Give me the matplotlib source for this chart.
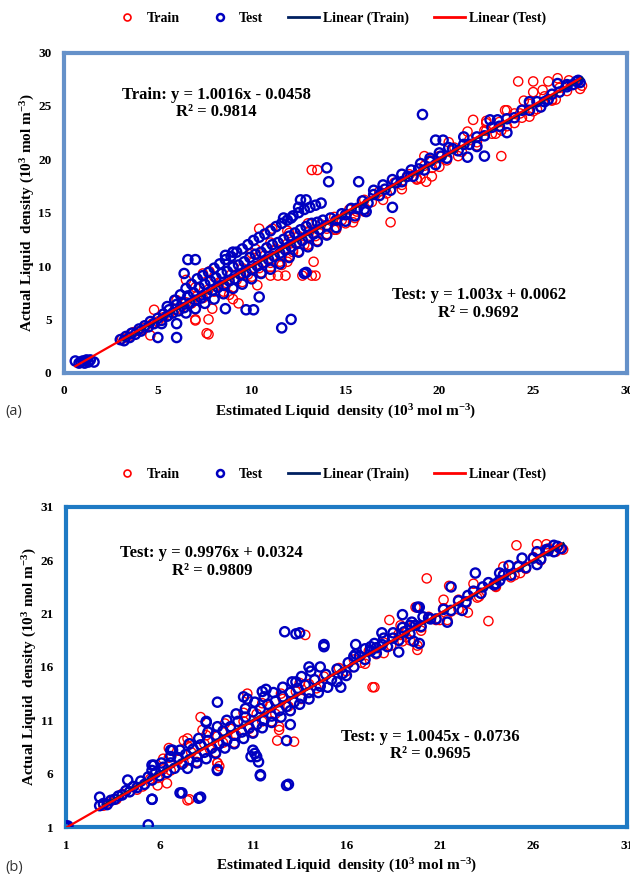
import numpy as np
import matplotlib
matplotlib.use("Agg")
from matplotlib import pyplot as plt
from matplotlib.lines import Line2D

plt.rcParams['font.family'] = ['Liberation Serif', 'DejaVu Sans']
plt.rcParams['font.weight'] = 'bold'
plt.rcParams['mathtext.fontset'] = 'custom'
plt.rcParams['mathtext.rm'] = 'Liberation Serif:bold'
plt.rcParams['mathtext.it'] = 'Liberation Serif:bold'
plt.rcParams['mathtext.bf'] = 'Liberation Serif:bold'

# ---- panel (a) : estimated vs actual, (x, y) pairs ----
train_a = [
    (3.1, 3.2), (3.4, 3.3), (3.7, 3.8), (4.0, 3.9), (4.3, 4.2), (4.7, 4.6), (5.0, 4.8),
    (5.3, 5.2), (5.6, 5.4), (5.9, 5.9), (6.2, 6.0), (6.5, 6.6), (6.8, 6.5), (7.1, 7.2),
    (7.4, 7.0), (7.7, 7.8), (8.0, 7.6), (8.3, 8.5), (8.6, 8.1), (8.9, 9.2), (9.2, 8.7),
    (9.5, 9.8), (9.8, 9.2), (10.1, 10.4), (10.4, 9.8), (10.7, 11.0), (11.0, 10.3),
    (11.3, 11.6), (11.6, 10.9), (11.9, 12.1), (12.2, 11.5), (12.5, 12.8), (12.8, 12.0),
    (13.1, 13.3), (13.4, 12.8), (13.7, 13.9), (14.0, 13.5), (14.4, 14.6), (14.8, 14.3),
    (15.2, 15.3), (15.6, 15.1), (16.0, 16.2), (16.4, 16.0), (16.8, 17.0), (17.2, 16.8),
    (17.6, 17.8), (18.0, 17.6), (18.4, 18.6), (18.8, 18.2), (19.2, 19.4), (19.6, 19.2),
    (20.0, 20.3), (20.4, 19.9), (20.8, 21.1), (21.2, 20.7), (21.6, 21.8), (22.0, 21.6),
    (22.4, 22.7), (22.8, 22.4), (23.2, 23.5), (23.6, 23.1), (24.0, 24.3), (24.4, 23.9),
    (24.8, 25.2), (25.2, 24.7), (25.6, 25.9), (26.0, 25.6), (26.4, 26.7), (26.8, 26.4),
    (27.2, 27.0), (27.6, 26.9),
    (8.5, 7.6), (9.0, 8.0), (9.5, 8.5), (10.0, 9.0), (10.5, 9.4), (11.0, 9.9), (11.5, 10.4),
    (12.0, 10.9), (12.5, 11.4), (13.0, 12.0), (13.5, 12.4), (14.0, 13.0), (14.5, 13.4),
    (15.0, 14.0), (15.5, 14.5), (16.0, 15.1), (17.0, 16.2), (18.0, 17.2), (19.0, 18.2),
    (20.0, 19.3), (21.0, 20.3), (22.0, 21.3), (23.0, 22.4), (24.0, 23.4), (25.0, 24.5),
    (26.0, 25.5), (6.0, 6.8), (7.0, 8.0), (8.0, 9.0), (9.0, 10.0), (10.0, 11.2),
    (11.0, 12.2), (12.0, 13.1), (13.0, 14.0), (20.5, 21.6), (21.5, 22.6), (22.5, 23.6),
    (23.5, 24.6), (24.5, 25.5), (25.5, 26.5),
    # scattered ones
    (4.6, 3.5), (4.8, 5.9), (7.7, 3.6), (7.7, 5.0), (7.0, 5.0), (7.0, 4.9), (7.6, 3.7),
    (9.0, 11.3), (8.8, 7.3), (9.0, 6.9), (9.3, 6.5), (10.3, 8.2), (7.4, 9.3), (7.75, 9.5),
    (6.5, 8.7), (7.9, 6.0), (10.4, 13.5), (10.2, 11.6), (12.2, 11.3), (11.9, 10.4),
    (11.6, 10.1), (11.0, 9.1), (11.4, 9.1), (11.8, 9.1), (12.7, 9.1), (13.2, 9.1),
    (13.3, 10.4), (13.4, 9.1), (13.2, 19.0), (13.5, 19.0), (17.4, 14.1), (11.1, 13.5),
    (11.9, 13.3), (15.4, 14.1), (14.4, 13.4), (24.2, 27.3), (25.0, 27.3), (25.8, 27.3),
    (26.3, 27.6), (26.9, 27.4), (27.5, 26.6), (26.2, 25.6), (25.0, 26.3), (24.8, 24.0),
    (23.6, 24.6), (24.3, 24.3), (21.8, 23.7), (22.5, 22.7), (23.3, 22.7), (22.5, 23.4),
    (23.3, 20.3), (19.2, 20.3), (19.5, 19.9), (18.8, 18.1), (19.3, 17.9), (19.6, 18.4),
]
test_a = [
    (0.6, 1.1), (0.8, 0.9), (0.9, 1.0), (1.0, 1.1), (1.1, 0.9), (1.2, 1.2), (1.3, 1.0),
    (1.4, 1.2), (1.6, 1.0),
    (3.0, 3.1), (3.2, 3.0), (3.3, 3.4), (3.5, 3.3), (3.6, 3.7), (3.8, 3.6), (4.0, 4.1),
    (4.1, 3.9), (4.3, 4.4), (4.5, 4.3), (4.6, 4.8), (4.8, 4.6), (5.0, 5.1), (5.2, 4.9),
    (5.3, 5.5), (5.5, 5.3), (5.6, 5.9), (5.8, 5.6), (6.0, 6.4), (6.1, 5.8), (6.3, 6.6),
    (6.4, 6.1), (6.6, 7.2), (6.7, 6.5), (6.9, 7.5), (7.0, 6.8), (7.2, 8.0), (7.3, 7.0),
    (7.5, 8.3), (7.6, 7.4), (7.8, 8.6), (7.9, 7.7), (8.1, 8.9), (8.2, 8.0), (8.4, 9.3),
    (8.5, 8.2), (8.7, 9.5), (8.8, 8.6), (9.0, 9.9), (9.1, 8.8), (9.3, 10.1), (9.4, 9.2),
    (9.6, 10.4), (9.7, 9.4), (9.9, 10.8), (10.0, 9.7), (10.2, 11.1), (10.3, 10.0),
    (10.5, 11.3), (10.6, 10.3), (10.8, 11.7), (10.9, 10.6), (11.1, 12.0), (11.2, 10.9),
    (11.4, 12.2), (11.5, 11.2), (11.7, 12.5), (11.8, 11.5), (12.0, 12.8), (12.1, 11.8),
    (12.3, 13.1), (12.4, 12.1), (12.6, 13.4), (12.7, 12.4), (12.9, 13.7), (13.0, 12.7),
    (13.2, 14.0), (13.3, 13.0), (13.5, 14.1), (13.6, 13.4), (13.8, 14.3), (14.0, 13.8),
    (14.2, 14.5), (14.5, 14.3), (14.8, 14.9), (15.0, 14.8), (15.3, 15.4), (15.6, 15.4),
    (15.9, 16.1), (16.2, 15.9), (16.5, 16.7), (16.8, 16.6), (17.1, 17.2), (17.4, 17.1),
    (17.7, 17.8), (18.0, 17.9), (18.3, 18.4), (18.6, 18.4), (18.9, 19.1), (19.2, 19.0),
    (19.5, 19.8), (19.8, 19.5), (20.1, 20.3), (20.4, 20.1), (20.7, 21.0), (21.0, 20.8),
    (21.3, 21.4), (21.6, 21.4), (22.0, 22.1), (22.4, 22.2), (22.8, 23.0), (23.2, 23.1),
    (23.6, 23.8), (24.0, 23.9), (24.4, 24.6), (24.8, 24.6), (25.2, 25.4), (25.6, 25.4),
    (26.0, 26.1), (26.4, 26.3), (26.8, 27.0), (27.1, 27.0), (27.3, 27.3), (27.5, 27.2),
    (5.5, 6.2), (5.9, 6.8), (6.2, 7.3), (6.5, 7.9), (6.8, 8.3), (7.1, 8.8), (7.4, 9.1),
    (7.7, 9.4), (8.0, 9.8), (8.3, 10.2), (8.6, 10.6), (8.9, 10.9), (9.2, 11.3), (9.5, 11.6),
    (9.8, 12.0), (10.1, 12.4), (10.4, 12.7), (10.7, 13.0), (11.0, 13.3), (11.3, 13.7),
    (11.6, 14.0), (11.9, 14.3), (12.2, 14.7), (12.5, 15.0), (12.8, 15.3), (13.1, 15.5),
    (13.4, 15.7), (13.7, 15.9), (6.5, 5.6), (7.0, 6.0), (7.5, 6.5), (8.0, 6.9), (8.5, 7.4),
    (9.0, 7.9), (9.5, 8.3), (10.0, 8.8), (10.5, 9.3), (11.0, 9.7), (11.5, 10.2), (12.0, 10.8),
    (12.5, 11.3), (13.0, 11.8), (13.5, 12.3), (14.0, 12.9), (14.5, 13.6), (15.0, 14.2),
    (15.5, 14.7), (16.0, 15.3), (16.5, 17.1), (17.0, 17.6), (17.5, 18.1), (18.0, 18.6),
    (18.5, 19.0), (19.0, 19.6), (19.5, 20.1), (20.0, 20.6), (20.5, 21.1),
    # scattered ones
    (5.0, 3.3), (6.0, 3.3), (5.2, 4.6), (6.0, 4.6), (11.6, 4.2), (12.1, 5.0),
    (6.6, 10.6), (7.0, 10.6), (6.4, 9.3), (8.6, 11.0), (9.0, 11.3), (9.7, 5.9),
    (10.1, 5.9), (8.6, 6.0), (10.4, 7.1), (11.7, 14.5), (12.1, 14.5), (12.6, 16.2),
    (12.9, 16.2), (12.5, 15.5), (12.9, 9.4), (12.8, 9.3), (14.0, 19.2), (14.1, 17.9),
    (15.7, 17.9), (17.5, 15.5), (16.1, 15.1), (19.1, 24.2), (22.4, 20.3), (23.6, 22.5),
    (22.7, 23.7), (23.1, 23.7), (24.8, 25.4), (25.4, 24.9), (25.8, 25.6), (26.3, 27.1),
    (26.8, 26.8), (27.4, 27.4), (19.8, 21.8), (20.2, 21.8), (21.3, 22.1), (21.5, 20.2),
    (22.0, 21.2),
]

# ---- panel (b) ----
train_b = [
    (3.0, 3.0), (3.3, 3.3), (3.7, 3.6), (4.0, 4.1), (4.4, 4.3), (4.8, 4.5), (5.1, 4.8),
    (5.5, 5.5), (5.9, 5.6), (6.2, 6.4), (6.6, 6.3), (7.0, 7.3), (7.3, 7.0), (7.7, 8.0),
    (8.0, 7.6), (8.4, 8.8), (8.7, 8.3), (9.1, 9.5), (9.4, 8.9), (9.8, 10.2), (10.1, 9.6),
    (10.5, 10.9), (10.8, 10.2), (11.2, 11.6), (11.5, 10.9), (11.9, 12.3), (12.2, 11.6),
    (12.6, 13.0), (12.9, 12.3), (13.3, 13.7), (13.6, 13.0), (14.0, 14.4), (14.4, 14.0),
    (14.8, 15.1), (15.2, 14.8), (15.6, 15.9), (16.0, 15.6), (16.4, 16.7), (16.8, 16.4),
    (17.2, 17.5), (17.6, 17.2), (18.0, 18.3), (18.4, 18.0), (18.8, 19.1), (19.2, 18.8),
    (19.6, 19.9), (20.0, 19.7), (20.4, 20.7), (20.8, 20.4), (21.2, 21.5), (21.6, 21.2),
    (22.0, 22.3), (22.4, 22.0), (22.8, 23.1), (23.2, 22.9), (23.6, 23.9), (24.0, 23.6),
    (24.4, 24.7), (24.8, 24.4), (25.2, 25.5), (25.6, 25.2), (26.0, 26.3), (26.4, 26.0),
    (26.8, 27.1), (27.2, 26.8), (27.6, 27.0),
    (6.5, 7.5), (7.5, 8.6), (8.5, 9.6), (9.5, 10.7), (10.5, 11.7), (11.5, 12.6), (12.5, 13.5),
    (13.5, 14.5), (8.0, 7.1), (9.0, 8.0), (10.0, 8.9), (11.0, 9.9), (12.0, 10.9), (13.0, 11.9),
    (14.0, 13.0), (15.0, 14.1), (16.0, 15.2), (17.0, 16.3), (18.0, 17.3), (19.0, 18.4),
    (20.0, 19.4), (21.0, 20.4), (22.0, 21.4), (23.0, 22.5), (24.0, 23.5), (25.0, 24.6),
    # scattered ones
    (20.3, 24.3), (13.8, 19.0), (17.4, 14.1), (8.2, 11.3), (12.4, 10.4), (13.2, 9.0),
    (12.3, 9.1), (7.6, 3.6), (7.5, 3.5), (9.1, 7.0), (6.5, 8.4), (7.5, 9.3), (6.4, 5.1),
    (5.9, 4.9), (9.1, 7.0), (9.2, 6.7), (7.3, 9.1), (6.2, 7.4), (8.3, 10.1), (10.7, 13.5),
    (12.4, 10.1), (17.5, 14.1), (19.8, 17.6), (25.1, 27.4), (26.2, 27.5), (26.7, 27.5),
    (27.4, 27.1), (25.3, 24.8), (24.4, 25.4), (21.5, 23.6), (22.8, 23.8), (24.0, 23.8),
    (23.1, 22.6), (22.5, 21.1), (23.6, 20.3), (21.2, 22.3), (21.4, 20.4), (19.7, 21.6),
    (18.3, 20.4), (18.9, 19.9), (18.9, 19.0), (19.4, 18.5), (19.8, 18.0),
]
test_b = [
    (1.0, 1.1), (1.0, 1.0), (1.1, 1.1), (0.95, 1.05), (1.05, 0.95),
    (2.8, 3.0), (3.0, 3.2), (3.2, 3.1), (3.4, 3.5), (3.6, 3.6), (3.8, 3.9), (4.0, 4.0),
    (4.2, 4.4), (4.4, 4.3), (4.6, 4.8), (4.8, 4.7), (5.0, 5.3), (5.2, 5.0), (5.4, 5.7),
    (5.6, 5.4), (5.8, 6.1), (6.0, 5.8), (6.2, 6.6), (6.4, 6.1), (6.6, 7.0), (6.8, 6.5),
    (7.0, 7.5), (7.2, 6.9), (7.4, 7.8), (7.6, 7.3), (7.8, 8.3), (8.0, 7.6), (8.2, 8.7),
    (8.4, 8.0), (8.6, 9.1), (8.8, 8.4), (9.0, 9.6), (9.2, 8.8), (9.4, 10.0), (9.6, 9.1),
    (9.8, 10.4), (10.0, 9.6), (10.2, 10.9), (10.4, 9.9), (10.6, 11.3), (10.8, 10.3),
    (11.0, 11.8), (11.2, 10.6), (11.4, 12.1), (11.6, 11.0), (11.8, 12.5), (12.0, 11.4),
    (12.2, 12.8), (12.4, 11.9), (12.6, 13.2), (12.8, 12.3), (13.0, 13.6), (13.2, 12.7),
    (13.4, 14.0), (13.6, 13.1), (13.8, 14.3), (14.0, 13.6), (14.3, 14.8), (14.6, 14.2),
    (14.9, 15.3), (15.2, 14.8), (15.5, 15.8), (15.8, 15.4), (16.1, 16.4), (16.4, 16.0),
    (16.7, 17.0), (17.0, 16.7), (17.3, 17.5), (17.6, 17.3), (17.9, 18.1), (18.2, 17.9),
    (18.5, 18.7), (18.8, 18.5), (19.1, 19.3), (19.4, 19.1), (19.7, 19.9), (20.0, 19.8),
    (20.4, 20.6), (20.8, 20.5), (21.2, 21.4), (21.6, 21.3), (22.0, 22.2), (22.4, 22.1),
    (22.8, 23.1), (23.2, 22.9), (23.6, 23.9), (24.0, 23.8), (24.4, 24.6), (24.8, 24.6),
    (25.2, 25.4), (25.6, 25.3), (26.0, 26.2), (26.4, 26.1), (26.8, 26.9), (27.1, 26.8),
    (27.3, 27.3), (27.5, 27.1),
    (5.6, 6.3), (6.1, 7.0), (6.6, 7.6), (7.1, 8.2), (7.6, 8.8), (8.1, 9.3), (8.6, 9.9),
    (9.1, 10.4), (9.6, 11.0), (10.1, 11.6), (10.6, 12.1), (11.1, 12.7), (11.6, 13.2),
    (12.1, 13.6), (12.6, 14.1), (13.1, 14.6), (13.6, 15.1), (14.1, 15.6), (14.6, 16.0),
    (7.5, 6.5), (8.0, 7.0), (8.5, 7.4), (9.0, 7.9), (9.5, 8.4), (10.0, 8.8), (10.5, 9.3),
    (11.0, 9.8), (11.5, 10.3), (12.0, 10.8), (12.5, 11.3), (13.0, 11.9), (13.5, 12.5),
    (14.0, 13.0), (14.5, 13.6), (15.0, 14.1), (15.5, 14.6), (16.0, 15.2), (16.5, 17.2),
    (17.0, 17.7), (17.5, 18.2), (18.0, 18.7), (18.5, 19.2), (19.0, 19.7), (19.5, 20.2),
    # scattered ones
    (5.4, 1.2), (2.8, 3.8), (5.6, 3.6), (7.2, 4.2), (8.2, 3.8), (7.1, 4.2), (8.1, 3.7),
    (5.6, 3.6), (12.8, 4.9), (12.9, 5.0), (11.4, 5.8), (11.4, 5.9), (4.3, 5.4), (9.1, 6.4),
    (9.1, 6.3), (6.7, 8.2), (6.6, 8.2), (5.7, 6.8), (5.6, 6.8), (9.1, 12.7), (8.5, 10.8),
    (8.5, 10.9), (10.5, 13.2), (10.7, 13.0), (11.5, 13.7), (11.7, 13.9), (12.8, 9.1),
    (13.0, 10.6), (14.0, 16.0), (13.3, 14.6), (11.0, 8.2), (11.2, 7.6), (11.3, 7.1),
    (11.1, 7.9), (10.9, 7.6), (12.7, 19.3), (13.3, 19.1), (14.8, 17.9), (15.7, 14.1),
    (18.8, 17.4), (27.1, 27.4), (26.2, 26.8), (26.7, 27.0), (26.2, 25.6), (25.4, 26.2),
    (24.7, 25.5), (24.2, 24.8), (21.6, 23.5), (22.9, 24.8), (23.3, 23.5), (23.9, 23.7),
    (24.2, 24.1), (22.5, 22.7), (22.2, 21.3), (21.4, 20.2), (19.8, 21.6), (19.9, 21.6),
    (19.0, 20.9), (19.4, 19.9), (20.1, 20.7), (20.5, 20.5), (17.9, 19.2), (19.6, 18.4),
    (19.9, 18.2), (16.5, 18.1), (17.3, 17.9), (17.6, 17.8), (16.4, 17.0), (14.8, 18.1),
    (13.5, 19.2),
]

# fitted trend lines (slope, intercept) as printed on the chart
fit_a = {'train': (1.0016, -0.0458), 'test': (1.003, 0.0062)}
fit_b = {'train': (0.9976, 0.0324), 'test': (1.0045, -0.0736)}
eq_a = ["Train: y = 1.0016x - 0.0458\nR² = 0.9814", "Test: y = 1.003x + 0.0062\nR² = 0.9692"]
eq_b = ["Test: y = 0.9976x + 0.0324\nR² = 0.9809", "Test: y = 1.0045x - 0.0736\nR² = 0.9695"]
ticks_a = [0, 5, 10, 15, 20, 25, 30]
ticks_b = [1, 6, 11, 16, 21, 26, 31]

RED = '#FF0000'
BLUE = '#0000C0'
NAVY = '#002060'


def panel(ax, train, test, fit, eqs, eq_pos, ticks, frame_color):
    tr = np.array(train)
    te = np.array(test)
    ax.scatter(tr[:, 0], tr[:, 1], s=44, facecolors='none', edgecolors=RED, linewidths=1.0, zorder=2)
    ax.scatter(te[:, 0], te[:, 1], s=44, facecolors='none', edgecolors=BLUE, linewidths=1.7, zorder=3)
    for key, data, col, lw in [('train', tr, NAVY, 2.0), ('test', te, RED, 1.6)]:
        m, b = fit[key]
        xx = np.array([data[:, 0].min(), data[:, 0].max()])
        ax.plot(xx, m * xx + b, color=col, lw=lw, zorder=4)
    for txt, (x, y) in zip(eqs, eq_pos):
        ax.text(x, y, txt, ha='center', va='top', fontsize=12, fontweight='bold',
                linespacing=1.1, zorder=5)
    ax.set_xlim(ticks[0], ticks[-1])
    ax.set_ylim(ticks[0], ticks[-1])
    ax.set_xticks(ticks)
    ax.set_yticks(ticks)
    ax.tick_params(length=0, labelsize=9.5, pad=9)
    for lab in ax.get_xticklabels() + ax.get_yticklabels():
        lab.set_fontweight('bold')
    for sp in ax.spines.values():
        sp.set_color(frame_color)
        sp.set_linewidth(3)
    ax.set_xlabel(r"Estimated Liquid  density (10$^{3}$ mol m$^{-3}$)", fontsize=11,
                  fontweight='bold', labelpad=4)
    ax.set_ylabel(r"Actual Liquid  density (10$^{3}$ mol m$^{-3}$)", fontsize=11,
                  fontweight='bold', labelpad=1)


fig = plt.figure(figsize=(6.3, 8.77), dpi=100)
ax1 = fig.add_axes([0.1016, 0.575, 0.8937, 0.365])
ax2 = fig.add_axes([0.1048, 0.057, 0.890, 0.365])

panel(ax1, train_a, test_a, fit_a, eq_a, [(8.1, 26.8), (22.1, 8.0)], ticks_a, '#6591C9')
panel(ax2, train_b, test_b, fit_b, eq_b, [(8.8, 27.4), (20.5, 10.2)], ticks_b, '#1E7AC4')

handles = [
    Line2D([], [], ls='none', marker='o', mfc='none', mec=RED, mew=1.2, ms=5),
    Line2D([], [], ls='none', marker='o', mfc='none', mec=BLUE, mew=1.8, ms=5),
    Line2D([], [], color=NAVY, lw=2),
    Line2D([], [], color=RED, lw=2),
]
labels = ['Train', 'Test', 'Linear (Train)', 'Linear (Test)']
for ypos in [0.979, 0.4595]:
    fig.legend(handles, labels, loc='center', bbox_to_anchor=(0.522, ypos), ncol=4,
               frameon=False, handlelength=2.2, handletextpad=0.3, columnspacing=1.8,
               prop={'family': 'Liberation Serif', 'weight': 'bold', 'size': 10})

fig.text(0.008, 1 - 412 / 877, "(a)", fontsize=10.5, family='Open Sans',
         fontweight='normal', color='#333333', va='center')
fig.text(0.008, 1 - 868 / 877, "(b)", fontsize=10.5, family='Open Sans',
         fontweight='normal', color='#333333', va='center')

plt.savefig('out.png', dpi=100)
